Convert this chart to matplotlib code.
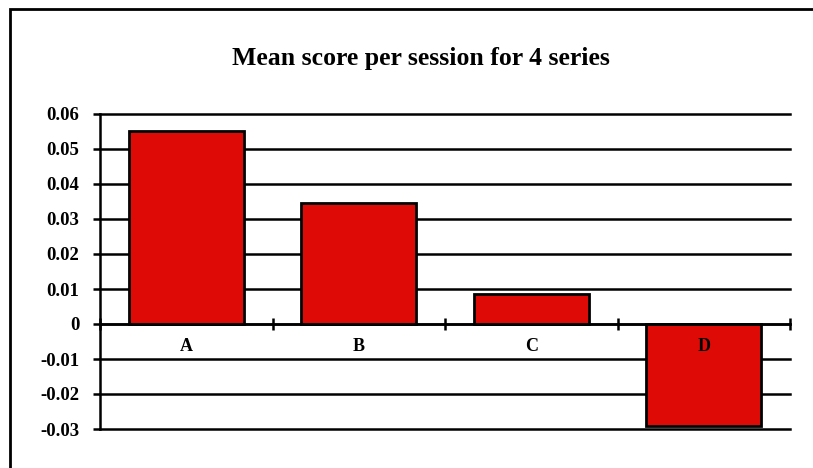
import numpy as np
import matplotlib.pyplot as plt
from matplotlib.patches import Rectangle

categories = ["A", "B", "C", "D"]
scores = [0.055, 0.0345, 0.0085, -0.029]
yticks = [-0.03, -0.02, -0.01, 0, 0.01, 0.02, 0.03, 0.04, 0.05, 0.06]
ytick_labels = ["-0.03", "-0.02", "-0.01", "0", "0.01", "0.02", "0.03", "0.04", "0.05", "0.06"]

plt.rcParams['font.family'] = ['Liberation Serif', 'DejaVu Serif']
plt.rcParams['font.weight'] = 'bold'

fig = plt.figure(figsize=(8.13, 4.68), dpi=100)
ax = fig.add_axes([100/813, 1-429/468, 690/813, 315/468])

# frame round the chart area (only top/left edges fall inside the picture)
fig.patches.append(Rectangle((10/813, -0.1), 1.2, 1-9/468+0.1, transform=fig.transFigure,
                             fill=False, edgecolor='black', linewidth=2, clip_on=False))

x = np.arange(len(categories))
ax.bar(x, scores, width=0.667, color='#DE0A06', edgecolor='black', linewidth=2, zorder=3)

ax.set_xlim(-0.5, len(categories) - 0.5)
ax.set_ylim(-0.03, 0.06)
ax.set_yticks(yticks)
ax.set_yticklabels(ytick_labels, fontsize=13.5, fontweight='bold')
for y in yticks:
    ax.axhline(y, color='black', linewidth=1.8, zorder=1, clip_on=False)

ax.spines['right'].set_visible(False)
ax.spines['top'].set_visible(False)
ax.spines['left'].set_linewidth(1.8)
ax.spines['bottom'].set_position(('data', 0))
ax.spines['bottom'].set_linewidth(1.8)
ax.spines['bottom'].set_zorder(4)

ax.set_xticks(np.arange(len(categories) + 1) - 0.5)
ax.set_xticklabels([])
ax.tick_params(axis='x', which='major', direction='inout', length=8, width=1.8)
ax.tick_params(axis='y', direction='out', length=5, width=1.8, pad=10)

# category names sit just under the zero line, drawn above the bars
for xi, name in zip(x, categories):
    ax.annotate(name, (xi, 0), xytext=(0, -16.5), textcoords='offset points',
                ha='center', va='center', fontsize=13, fontweight='bold', zorder=6)

fig.text(421/813, 1-58/468, "Mean score per session for 4 series", ha='center', va='center',
         fontsize=18.5, fontweight='bold')

fig.savefig("out.png", dpi=100)
